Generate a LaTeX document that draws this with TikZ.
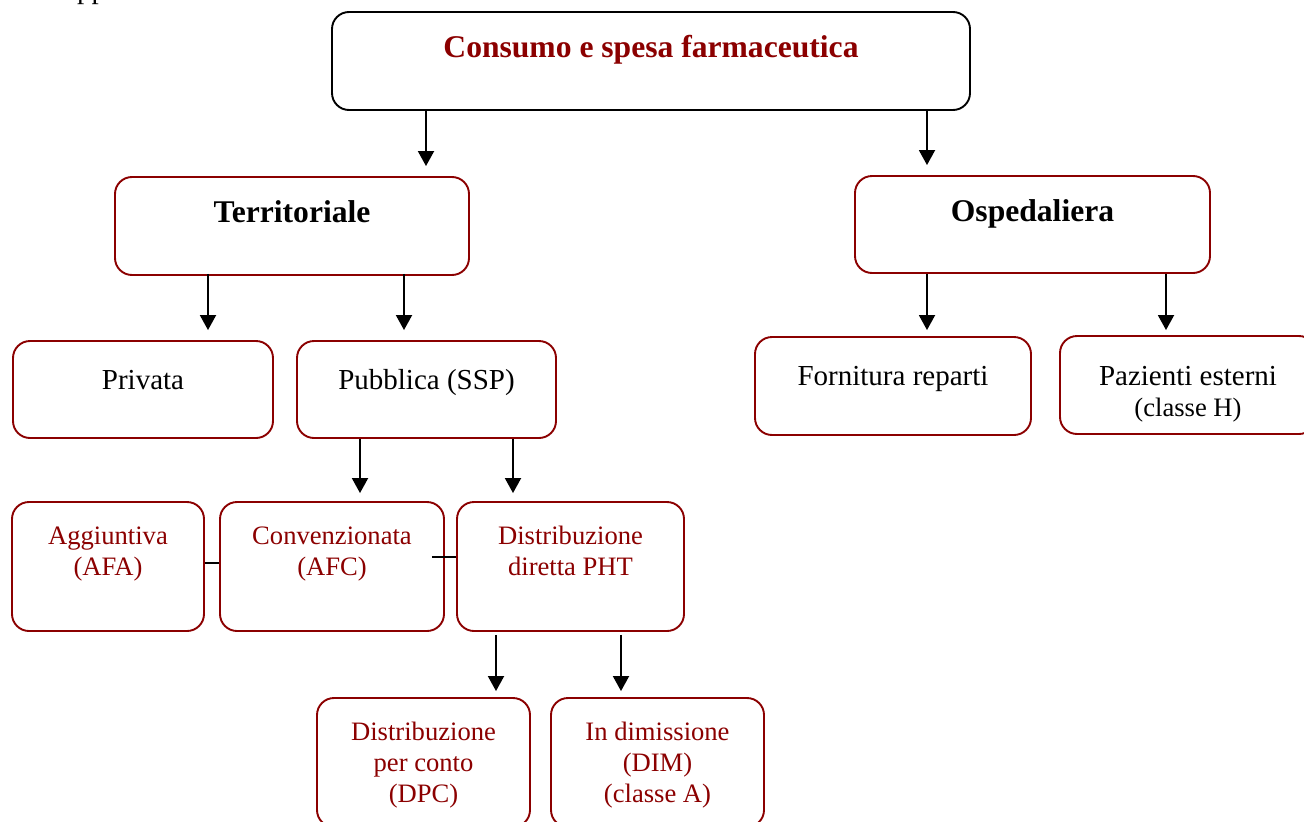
\documentclass[tikz,border=0pt]{standalone}
\usepackage{fontspec}
\setmainfont{Liberation Serif}
\usetikzlibrary{arrows.meta,calc}
\definecolor{dred}{RGB}{139,0,0}
\begin{document}
\begin{tikzpicture}[x=1pt,y=-1pt,
  bx/.style={draw=dred, line width=1.9pt, rounded corners=17pt, inner sep=0pt},
  topbx/.style={bx, draw=black},
  bigtxt/.style={font=\fontsize{31.6}{36}\selectfont\bfseries, anchor=base, inner sep=0pt},
  midtxt/.style={font=\fontsize{29}{31}\selectfont, anchor=base, inner sep=0pt},
  redtxt/.style={font=\fontsize{26.6}{31}\selectfont, text=dred, anchor=base, inner sep=0pt},
  arr/.style={line width=1.9pt, -{Triangle[width=16pt,length=15pt]}},
  conn/.style={line width=1.6pt}]
\useasboundingbox (0,0) rectangle (1304,822);
\clip (0,0) rectangle (1304,822);
% fragment of text cut off at the top
\node[midtxt, anchor=base west] (frag) at (77,-2) {pp};
% boxes
\node[topbx, minimum width=638pt, minimum height=98pt] (top) at (651,61) {};
\node[bx, minimum width=354pt, minimum height=98pt] (terr) at (292,226) {};
\node[bx, minimum width=355pt, minimum height=97pt] (osp) at (1032.5,224.5) {};
\node[bx, minimum width=260pt, minimum height=97pt] (priv) at (143,389.5) {};
\node[bx, minimum width=259pt, minimum height=97pt] (pubb) at (426.5,389.5) {};
\node[bx, minimum width=276pt, minimum height=98pt] (forn) at (893,386) {};
\node[bx, minimum width=256pt, minimum height=98pt] (paz) at (1188,385) {};
\node[bx, minimum width=192pt, minimum height=129pt] (agg) at (108,566.5) {};
\node[bx, minimum width=224pt, minimum height=129pt] (conv) at (332,566.5) {};
\node[bx, minimum width=227pt, minimum height=129pt] (dist) at (570.5,566.5) {};
\node[bx, minimum width=213pt, minimum height=129pt] (dpc) at (423.5,762.5) {};
\node[bx, minimum width=213pt, minimum height=129pt] (dim) at (657.5,762.5) {};
% texts
\node[bigtxt, text=dred] (ttop) at ($(top.north)+(0,46.5)$) {Consumo e spesa farmaceutica};
\node[bigtxt] (tterr) at ($(terr.north)+(0,46.5)$) {Territoriale};
\node[bigtxt] (tosp) at ($(osp.north)+(0,46.5)$) {Ospedaliera};
\node[midtxt] (tpriv) at ($(priv.north)+(0,49)$) {Privata};
\node[midtxt] (tpubb) at ($(pubb.north)+(0,49)$) {Pubblica (SSP)};
\node[midtxt] (tforn) at ($(forn.north)+(0,49)$) {Fornitura reparti};
\node[midtxt] (tpaz) at ($(paz.north)+(0,50)$) {\begin{tabular}[t]{@{}c@{}}Pazienti esterni\\{\fontsize{26.6}{31}\selectfont (classe H)}\end{tabular}};
\node[redtxt] (tagg) at ($(agg.north)+(0,43)$) {\begin{tabular}[t]{@{}c@{}}Aggiuntiva\\(AFA)\end{tabular}};
\node[redtxt] (tconv) at ($(conv.north)+(0,43)$) {\begin{tabular}[t]{@{}c@{}}Convenzionata\\(AFC)\end{tabular}};
\node[redtxt] (tdist) at ($(dist.north)+(0,43)$) {\begin{tabular}[t]{@{}c@{}}Distribuzione\\diretta PHT\end{tabular}};
\node[redtxt] (tdpc) at ($(dpc.north)+(0,43)$) {\begin{tabular}[t]{@{}c@{}}Distribuzione\\per conto\\(DPC)\end{tabular}};
\node[redtxt] (tdim) at ($(dim.north)+(0,43)$) {\begin{tabular}[t]{@{}c@{}}In dimissione\\(DIM)\\(classe A)\end{tabular}};
% arrows
\draw[arr] (top.south -| 426,0) -- ($(terr.north -| 426,0)+(0,-10)$);
\draw[arr] (top.south -| 927,0) -- ($(osp.north -| 927,0)+(0,-10)$);
\draw[arr] ($(terr.south -| 208,0)+(0,-2)$) -- ($(priv.north -| 208,0)+(0,-10)$);
\draw[arr] ($(terr.south -| 404,0)+(0,-2)$) -- ($(pubb.north -| 404,0)+(0,-10)$);
\draw[arr] (osp.south -| 927,0) -- ($(forn.north -| 927,0)+(0,-6)$);
\draw[arr] (osp.south -| 1166,0) -- ($(paz.north -| 1166,0)+(0,-5)$);
\draw[arr] (pubb.south -| 360,0) -- ($(conv.north -| 360,0)+(0,-8)$);
\draw[arr] (pubb.south -| 513,0) -- ($(dist.north -| 513,0)+(0,-8)$);
\draw[arr] ($(dist.south -| 496,0)+(0,3)$) -- ($(dpc.north -| 496,0)+(0,-6)$);
\draw[arr] ($(dist.south -| 621,0)+(0,3)$) -- ($(dim.north -| 621,0)+(0,-6)$);
% plain connectors
\draw[conn] (agg.east |- 0,563) -- (conv.west |- 0,563);
\draw[conn] ($(conv.east |- 0,557)+(-13,0)$) -- (dist.west |- 0,557);
\end{tikzpicture}
\end{document}
